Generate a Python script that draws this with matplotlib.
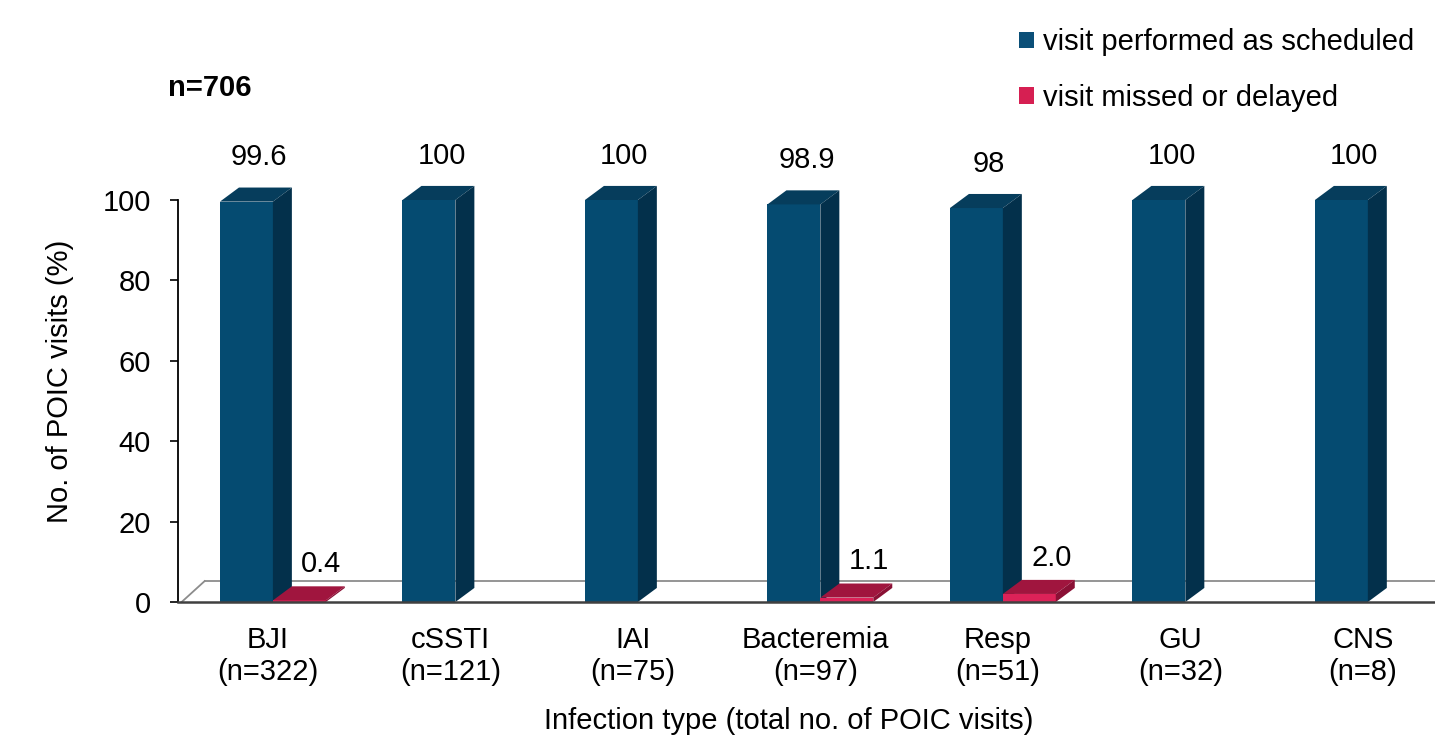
import matplotlib.pyplot as plt
from matplotlib.patches import Polygon, Patch
import numpy as np

plt.rcParams['font.family'] = ['Liberation Sans', 'DejaVu Sans']

# infection types and their number of POIC visits
categories = ['BJI', 'cSSTI', 'IAI', 'Bacteremia', 'Resp', 'GU', 'CNS']
n_visits = [322, 121, 75, 97, 51, 32, 8]
# share of visits (%)
performed = [99.6, 100, 100, 98.9, 98, 100, 100]
missed = [0.4, 0, 0, 1.1, 2.0, 0, 0]

blue = ('#054B71', '#063D5C', '#03304B')   # front, top, side
red = ('#DC2258', '#A0153E', '#8A1035')

bar_w = 0.29
depth_x = 0.104   # fake 3d depth, x data units
depth_y = 3.5     # fake 3d depth, y data units


def bar3d(ax, x0, h, cols):
    x1 = x0 + bar_w
    ax.bar(x0, h, width=bar_w, align='edge', color=cols[0], zorder=3,
           edgecolor='none', clip_on=False)
    top = Polygon([(x0, h), (x1, h), (x1 + depth_x, h + depth_y),
                   (x0 + depth_x, h + depth_y)], closed=True,
                  facecolor=cols[1], edgecolor='none', zorder=3, clip_on=False)
    side = Polygon([(x1, 0), (x1, h), (x1 + depth_x, h + depth_y),
                    (x1 + depth_x, depth_y)], closed=True,
                   facecolor=cols[2], edgecolor='none', zorder=3, clip_on=False)
    ax.add_patch(top)
    ax.add_patch(side)


fig = plt.figure(figsize=(14.35, 7.41), dpi=100)
ax = fig.add_axes([178 / 1435, 139 / 741, 1257 / 1435, 402 / 741])

x = np.arange(len(categories))
xl = x - 0.263
xr = x + 0.027

for i in range(len(categories)):
    bar3d(ax, xl[i], performed[i], blue)
    ax.text(xl[i] + bar_w / 2 + 0.07, performed[i] + 11, f'{performed[i]:g}',
            ha='center', va='center', fontsize=21, clip_on=False)
    if missed[i] > 0:
        bar3d(ax, xr[i], missed[i], red)
        ax.text(xr[i] + bar_w / 2 + 0.12, missed[i] + 9, f'{missed[i]:.1f}',
                ha='center', va='center', fontsize=21, clip_on=False)

# floor of the 3d box
x_lo, x_hi = -0.493, 6.395
floor_y = 5.2
ax.plot([x_lo + 0.02, x_lo + 0.146], [0, floor_y], color='#8C8C8C', lw=1.3,
        zorder=1, clip_on=False)
ax.plot([x_lo + 0.146, x_hi], [floor_y, floor_y], color='#8C8C8C', lw=1.3,
        zorder=1, clip_on=False)
ax.plot([x_lo, x_hi], [0, 0], color='#404040', lw=1.8, zorder=4, clip_on=False)

ax.set_xlim(x_lo, x_hi)
ax.set_ylim(0, 100)
ax.set_yticks([0, 20, 40, 60, 80, 100])
ax.tick_params(axis='y', labelsize=21, length=5.5, width=1.2, direction='out',
               pad=14)
ax.set_xticks(x)
ax.set_xticklabels([f'{c}\n(n={n})' for c, n in zip(categories, n_visits)],
                   fontsize=21, linespacing=1.2)
ax.tick_params(axis='x', length=0, pad=17)

for s in ['top', 'right', 'bottom']:
    ax.spines[s].set_visible(False)
ax.spines['left'].set_linewidth(1.3)

ax.set_ylabel('No. of POIC visits (%)', fontsize=21)
ax.yaxis.set_label_coords(-0.083, 0.55)
ax.set_xlabel('Infection type (total no. of POIC visits)', fontsize=21)
ax.xaxis.set_label_coords(0.486, -0.262)

fig.text(168 / 1435, 1 - 88 / 741, 'n=706', fontsize=21, fontweight='bold',
         ha='left', va='center')

handles = [Patch(facecolor='#0B4F78', label='visit performed as scheduled'),
           Patch(facecolor='#D61F52', label='visit missed or delayed')]
fig.legend(handles=handles, loc='upper left',
           bbox_to_anchor=(993 / 1435, 1 - 2 / 741), frameon=False,
           fontsize=21, handlelength=0.5, handleheight=0.5, handletextpad=0.3,
           labelspacing=0.95)

fig.savefig('out.png', dpi=100)
